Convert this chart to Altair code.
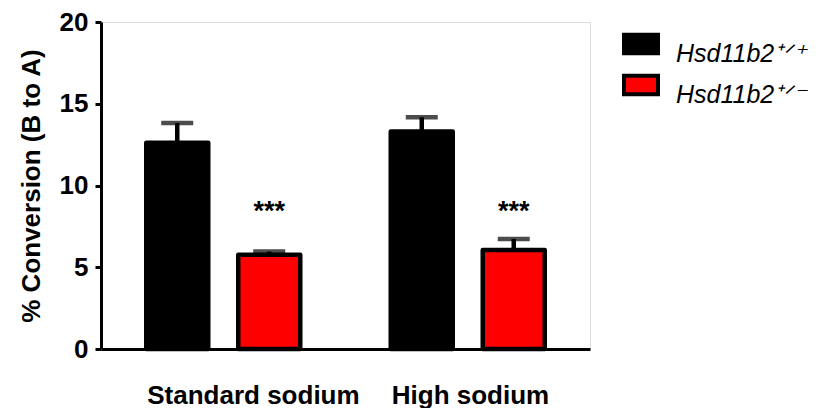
import altair as alt
import pandas as pd

# ---- data ----
groups = ["Standard sodium", "Standard sodium", "High sodium", "High sodium"]
genotypes = ["Hsd11b2⁺ᐟ⁺", "Hsd11b2⁺ᐟ⁻", "Hsd11b2⁺ᐟ⁺", "Hsd11b2⁺ᐟ⁻"]
means = [12.61, 5.76, 13.30, 6.06]
sems = [1.21, 0.20, 0.87, 0.67]
stars = ["", "***", "", "***"]
star_level = [7.9, 7.9, 7.9, 7.9]

group_order = ["Standard sodium", "High sodium"]
geno_order = ["Hsd11b2⁺ᐟ⁺", "Hsd11b2⁺ᐟ⁻"]
colors = ["#000000", "#ff0000"]
y_ticks = [0, 5, 10, 15, 20]

df = pd.DataFrame({
    "group": groups,
    "genotype": genotypes,
    "mean": means,
    "sem": sems,
    "star": stars,
    "star_y": star_level,
})
df["upper"] = df["mean"] + df["sem"]

FONT = "Liberation Sans"

x_enc = alt.X(
    "group:N",
    sort=group_order,
    scale=alt.Scale(paddingInner=0, paddingOuter=0),
    axis=alt.Axis(
        title=None,
        labelAngle=0,
        labelAlign="left",
        labelOffset=-76,
        labelBaseline="top",
        labelLimit=400,
        ticks=False,
        tickSize=0,
        labelPadding=33,
        labelFont=FONT,
        labelFontSize=26,
        labelFontWeight="bold",
        labelColor="black",
        domainColor="black",
        domainWidth=3,
        grid=False,
    ),
)
xo_enc = alt.XOffset(
    "genotype:N",
    sort=geno_order,
    scale=alt.Scale(paddingInner=0.326, paddingOuter=0.492),
)
y_scale = alt.Scale(domain=[0, 20], nice=False)
y_axis = alt.Axis(
    title="% Conversion (B to A)",
    values=y_ticks,
    grid=False,
    tickSize=6,
    tickWidth=3,
    tickColor="black",
    domainColor="black",
    domainWidth=3,
    labelPadding=7,
    labelFont=FONT,
    labelFontSize=26,
    labelFontWeight="bold",
    labelColor="black",
    titleFont=FONT,
    titleFontSize=26,
    titleFontWeight="bold",
    titleColor="black",
    titlePadding=15,
)

base = alt.Chart(df)

err_rule = base.mark_rule(color="black", strokeWidth=4.5).encode(
    x=x_enc, xOffset=xo_enc,
    y=alt.Y("mean:Q", scale=y_scale, axis=y_axis),
    y2="upper:Q",
)
err_cap = base.mark_tick(color="black", orient="horizontal", size=32, thickness=4.5).encode(
    x=x_enc, xOffset=xo_enc,
    y=alt.Y("upper:Q", scale=y_scale),
)
bars = base.mark_bar(stroke="black", strokeWidth=4.5, strokeJoin="round", opacity=1).encode(
    x=x_enc, xOffset=xo_enc,
    y=alt.Y("mean:Q", scale=y_scale, axis=y_axis),
    color=alt.Color(
        "genotype:N",
        sort=geno_order,
        scale=alt.Scale(domain=geno_order, range=colors),
        legend=alt.Legend(
            title=None,
            orient="none",
            legendX=523,
            legendY=15,
            padding=0,
            symbolType="M-1.133,-1.29L1.133,-1.29L1.133,-0.044L-1.133,-0.044Z",
            symbolSize=900,
            symbolStrokeColor="black",
            symbolStrokeWidth=4,
            symbolOpacity=1,
            labelFont=FONT,
            labelFontSize=25,
            labelFontStyle="italic",
            labelColor="black",
            labelBaseline="middle",
            labelOffset=18,
            labelLimit=300,
            rowPadding=0,
        ),
    ),
)
star_text = base.mark_text(font=FONT, fontSize=27, fontWeight="bold", color="black", baseline="alphabetic").encode(
    x=x_enc, xOffset=xo_enc,
    y=alt.Y("star_y:Q", scale=y_scale),
    text="star:N",
)

chart = alt.layer(err_rule, err_cap, bars, star_text).properties(
    width=489,
    height=327,
    autosize=alt.AutoSizeParams(type="none"),
    padding={"left": 93, "top": 14, "right": 220, "bottom": 59},
).configure_view(stroke=None).configure(font=FONT)

chart.save("out.html", embed_options={"renderer": "svg", "actions": False})
